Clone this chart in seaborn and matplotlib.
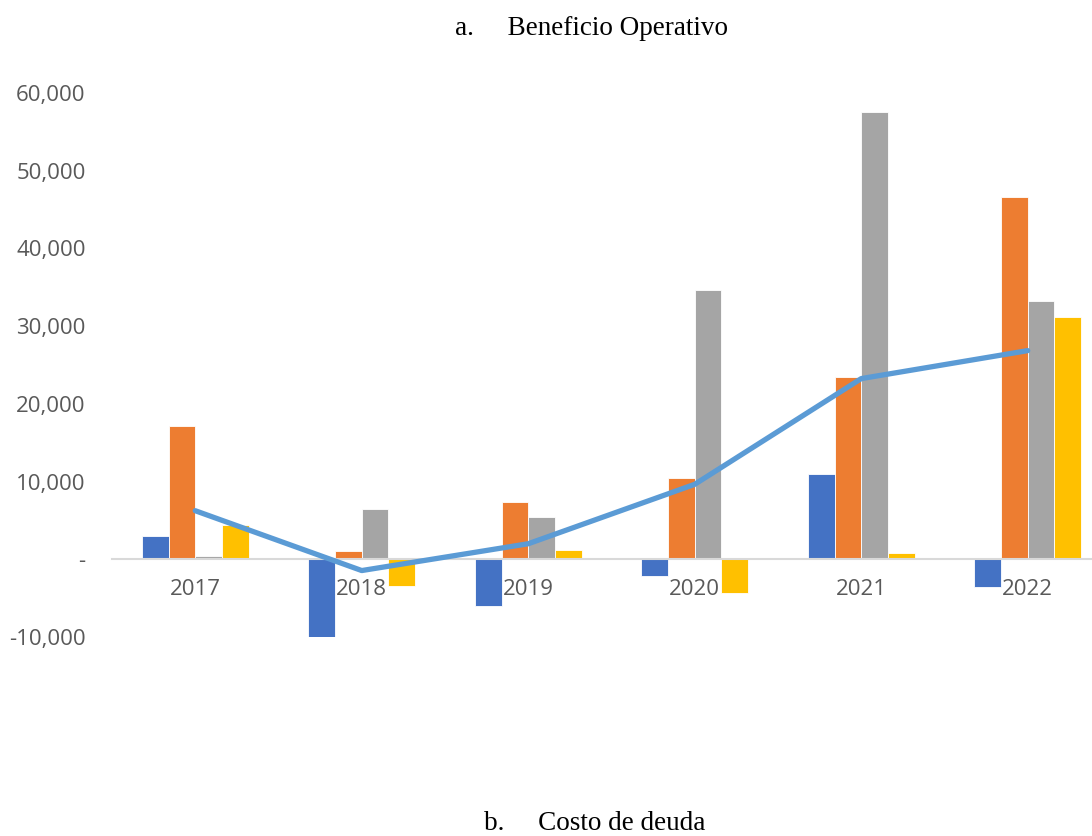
import numpy as np
import pandas as pd
import matplotlib
matplotlib.use("Agg")
import matplotlib.pyplot as plt
from matplotlib.ticker import FuncFormatter
import seaborn as sns

# values
years = ["2017", "2018", "2019", "2020", "2021", "2022"]
serie_1 = [3000, -10000, -6000, -2200, 11000, -3600]
serie_2 = [17100, 1100, 7400, 10400, 23500, 46600]
serie_3 = [400, 6500, 5400, 34700, 57600, 33200]
serie_4 = [4400, -3400, 1200, -4300, 800, 31200]
promedio = [6250, -1450, 2000, 9650, 23250, 26850]

colors = ["#4472C4", "#ED7D31", "#A5A5A5", "#FFC000"]

df = pd.DataFrame({
    "year": years * 4,
    "value": serie_1 + serie_2 + serie_3 + serie_4,
    "serie": ["s1"] * 6 + ["s2"] * 6 + ["s3"] * 6 + ["s4"] * 6,
})

sns.set_theme(style="white")
plt.rcParams["font.family"] = ["Open Sans", "DejaVu Sans"]

fig = plt.figure(figsize=(10.92, 8.36), dpi=100)
ax = fig.add_axes([112 / 1092, 199 / 836, 999 / 1092, 544 / 836])

sns.barplot(data=df, x="year", y="value", hue="serie", palette=colors,
            saturation=1, width=0.64, edgecolor="white", linewidth=0.6,
            legend=False, ax=ax)
sns.lineplot(x=np.arange(len(years)), y=promedio, color="#5B9BD5",
             linewidth=3.8, solid_capstyle="round", solid_joinstyle="round",
             ax=ax, zorder=5)

ax.set_ylim(-10000, 60000)
ax.set_xlim(-0.5, 5.5)
ax.set_yticks(range(-10000, 60001, 10000))
ax.yaxis.set_major_formatter(FuncFormatter(lambda v, p: "-" if v == 0 else f"{int(v):,}"))
ax.set_xlabel("")
ax.set_ylabel("")

for s in ["left", "top", "right"]:
    ax.spines[s].set_visible(False)
ax.spines["bottom"].set_position(("data", 0))
ax.spines["bottom"].set_color("#D9D9D9")
ax.spines["bottom"].set_linewidth(1.5)

ax.tick_params(axis="both", length=0, labelsize=16, labelcolor="#595959")
ax.tick_params(axis="y", pad=19)
ax.tick_params(axis="x", pad=14)

fig.text(0.542, 0.966, "a.     Beneficio Operativo", ha="center", va="center",
         fontsize=19.5, family="Liberation Serif", color="black")
fig.text(0.545, 0.015, "b.     Costo de deuda", ha="center", va="center",
         fontsize=19.5, family="Liberation Serif", color="black")

fig.savefig("out.png", dpi=100)
